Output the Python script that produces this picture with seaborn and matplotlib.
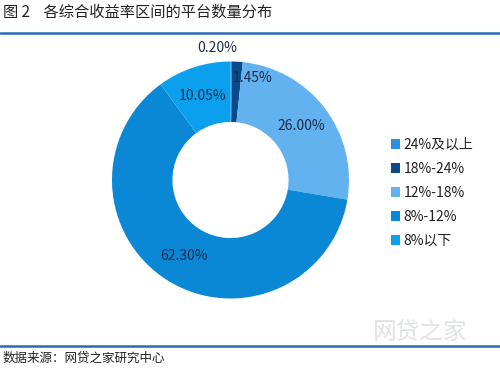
import numpy as np
import matplotlib
matplotlib.use('Agg')
import matplotlib.pyplot as plt
import seaborn as sns
from matplotlib.patches import Patch
from matplotlib.lines import Line2D

# Data
categories = ['24%及以上', '18%-24%', '12%-18%', '8%-12%', '8%以下']
shares = [0.20, 1.45, 26.00, 62.30, 10.05]
pct_labels = ['0.20%', '1.45%', '26.00%', '62.30%', '10.05%']
colors = ['#2a90e0', '#0b4a8a', '#62b2f0', '#0a87d5', '#0aa0ee']

sns.set_theme(style='white')
plt.rcParams['font.family'] = ['Noto Sans CJK SC', 'DejaVu Sans']

W, H = 500, 369
fig = plt.figure(figsize=(5, 3.69), dpi=100)
fig.patch.set_facecolor('white')

# donut axes: centre ~ (230, 180) px, radius ~118 px
cx, cy, r = 230.5, 180, 118.5
ax = fig.add_axes([(cx - r) / W, (H - cy - r) / H, 2 * r / W, 2 * r / H])
palette = sns.color_palette(colors)
wedges, _ = ax.pie(shares, colors=palette, startangle=90, counterclock=False,
                   radius=1, wedgeprops=dict(width=0.51, linewidth=0))
ax.set_xlim(-1, 1)
ax.set_ylim(-1, 1)
ax.set_aspect('equal')
ax.axis('off')

# percentage labels placed in the ring, small slices nudged like the original
tweaks = {0: (1.12, 6), 1: (0.88, -9)}
for i, w in enumerate(wedges):
    ang = (w.theta1 + w.theta2) / 2
    rad, dang = tweaks.get(i, (0.75, 0))
    a = np.deg2rad(ang + dang)
    ax.text(rad * np.cos(a), rad * np.sin(a), pct_labels[i], ha='center', va='center',
            fontsize=10, color='#1c2b4a', clip_on=False)

# legend
handles = [Patch(facecolor=c, edgecolor='none') for c in palette]
fig.legend(handles, categories, loc='center left', bbox_to_anchor=(378 / W, 1 - 193 / H),
           frameon=False, fontsize=10, labelspacing=0.72, handlelength=0.7,
           handleheight=0.7, handletextpad=0.25, labelcolor='#222222')

# title, rules and source line
fig.text(3 / W, 1 - 12 / H, '图 2    各综合收益率区间的平台数量分布', fontsize=11,
         ha='left', va='center', color='#222222')
for y in (33, 346):
    fig.add_artist(Line2D([0, 1], [1 - y / H, 1 - y / H], color='#2a6bb8', lw=1.8,
                          transform=fig.transFigure))
fig.text(3 / W, 1 - 358 / H, '数据来源：网贷之家研究中心', fontsize=9,
         ha='left', va='center', color='#222222')
fig.text(420 / W, 1 - 332 / H, '网贷之家', fontsize=17, ha='center', va='center',
         color='#d8dbe0', alpha=0.8)

fig.savefig('out.png', dpi=100, facecolor='white')
